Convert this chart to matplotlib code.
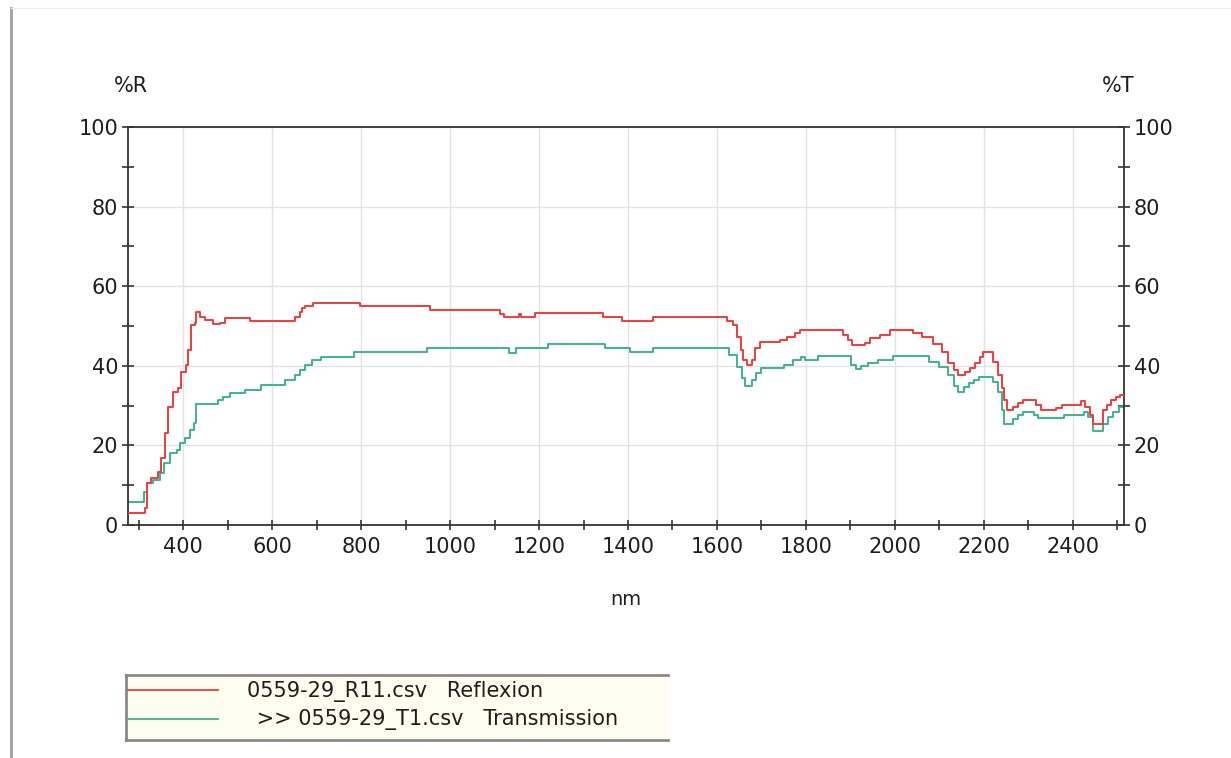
import matplotlib
matplotlib.use("Agg")
import matplotlib.pyplot as plt
from matplotlib.ticker import MultipleLocator
from matplotlib.lines import Line2D
from matplotlib.patches import Rectangle

plt.rcParams['font.family'] = ['DejaVu Sans']

# Reflection spectrum (wavelength in nm, %R), stepwise values
refl_nm = [276, 315, 318, 328, 344, 351, 360, 366, 377, 389, 396, 407, 411, 418,
           427, 429, 438, 449, 467, 483, 494, 550, 652, 662, 668, 674, 692, 798,
           955, 1112, 1122, 1154, 1160, 1190, 1343, 1386, 1456, 1622, 1636, 1645,
           1654, 1658, 1667, 1679, 1685, 1697, 1742, 1757, 1775, 1787, 1883, 1894,
           1903, 1933, 1944, 1966, 1989, 2040, 2060, 2085, 2105, 2120, 2132, 2142,
           2157, 2169, 2180, 2191, 2198, 2220, 2232, 2240, 2245, 2252, 2266, 2277,
           2288, 2318, 2328, 2362, 2375, 2418, 2428, 2438, 2446, 2468, 2476, 2486,
           2497, 2506, 2515]
refl_pct = [3.1, 4.3, 10.5, 11.8, 13.3, 16.8, 23.0, 29.6, 33.4, 34.4, 38.4, 40.2, 44.0, 50.3,
            50.8, 53.5, 52.3, 51.5, 50.5, 50.8, 52.0, 51.3, 52.3, 53.5, 54.5, 55.0, 55.8, 55.0,
            54.0, 53.0, 52.2, 53.0, 52.2, 53.2, 52.3, 51.3, 52.2, 51.3, 50.2, 47.3,
            44.0, 41.5, 40.2, 41.5, 44.4, 46.0, 46.5, 47.3, 48.2, 49.0, 47.7, 46.5,
            45.2, 45.7, 46.9, 47.7, 49.0, 48.2, 47.3, 45.6, 43.5, 40.6, 38.9, 37.7,
            38.5, 39.4, 40.6, 42.3, 43.5, 41.0, 37.7, 34.4, 31.4, 28.9, 29.7, 30.6,
            31.4, 30.2, 28.9, 29.5, 30.2, 31.2, 29.7, 27.6, 25.5, 28.9, 30.2, 31.4,
            32.2, 32.7, 32.7]

# Transmission spectrum (wavelength in nm, %T), stepwise values
trans_nm = [276, 312, 318, 333, 348, 358, 370, 386, 394, 405, 415, 424, 429, 479,
            490, 505, 540, 575, 629, 652, 662, 675, 690, 710, 784, 948, 1132, 1148,
            1220, 1348, 1404, 1456, 1628, 1645, 1656, 1664, 1678, 1688, 1700, 1750,
            1772, 1788, 1798, 1826, 1902, 1912, 1924, 1940, 1962, 1995, 2076, 2100,
            2120, 2132, 2142, 2155, 2166, 2177, 2188, 2220, 2232, 2240, 2245, 2265,
            2277, 2288, 2312, 2322, 2380, 2424, 2434, 2446, 2468, 2480, 2491, 2503,
            2515]
trans_pct = [5.9, 8.3, 10.5, 11.3, 13.0, 15.6, 18.1, 18.8, 20.6, 21.9, 23.9, 25.6, 30.4, 31.4,
             32.2, 33.1, 33.9, 35.2, 36.4, 37.7, 38.9, 40.2, 41.5, 42.3, 43.5, 44.4, 43.3, 44.4,
             45.4, 44.4, 43.4, 44.4, 42.7, 39.8, 36.9, 34.8, 36.4, 38.1, 39.4, 40.2,
             41.5, 42.3, 41.5, 42.5, 40.2, 39.1, 40.0, 40.6, 41.5, 42.5, 41.0, 39.8,
             37.7, 34.8, 33.5, 34.6, 35.6, 36.4, 37.3, 36.0, 33.5, 28.9, 25.5, 26.6,
             27.6, 28.5, 27.6, 26.8, 27.6, 28.5, 27.2, 23.6, 25.5, 27.2, 28.5, 29.7,
             29.7]

x_ticks = [400, 600, 800, 1000, 1200, 1400, 1600, 1800, 2000, 2200, 2400]
y_ticks = [0, 20, 40, 60, 80, 100]
legend_labels = ["0559-29_R11.csv   Reflexion", " >> 0559-29_T1.csv   Transmission"]

RED = '#f03c3c'
GREEN = '#3cb48c'
TXT = '#1e1e1e'

W, H = 1231, 758
fig = plt.figure(figsize=(W / 100, H / 100), dpi=100)
fig.patch.set_facecolor('white')

def px(x, y):
    return x / W, 1 - y / H

# page frame: left rule and top hairline
fig.add_artist(Line2D([11 / W, 11 / W], [0, 1 - 8 / H], color='#a0a0a0', lw=2.0,
                      transform=fig.transFigure))
fig.add_artist(Line2D([11 / W, 1], [1 - 8 / H, 1 - 8 / H], color='#ececec', lw=1.0,
                      transform=fig.transFigure))

l, b = px(128, 525)
r, t = px(1124, 127)
ax = fig.add_axes([l, b, r - l, t - b])

ax.step(refl_nm, refl_pct, where='post', color=RED, lw=1.4, zorder=3)
ax.step(trans_nm, trans_pct, where='post', color=GREEN, lw=1.4, zorder=2)

ax.set_xlim(276, 2515)
ax.set_ylim(0, 100)
ax.set_xticks(x_ticks)
ax.set_yticks(y_ticks)
ax.xaxis.set_minor_locator(MultipleLocator(100))
ax.yaxis.set_minor_locator(MultipleLocator(10))
ax.grid(True, which='major', color='#e2e2e2', lw=1.0)
ax.set_axisbelow(True)

for s in ax.spines.values():
    s.set_color('#333333')
    s.set_linewidth(1.3)

ax.tick_params(which='both', direction='inout', length=8, width=1.2, color='#333333',
               labelsize=15, labelcolor=TXT, right=True, labelright=True,
               top=False)
ax.tick_params(axis='x', which='both', length=7, pad=5)
ax.tick_params(axis='y', which='both', pad=3)

ax.set_xlabel('nm', fontsize=14, color=TXT, labelpad=24)
fig.text(*px(131, 86), '%R', fontsize=15, color=TXT, ha='center', va='center')
fig.text(*px(1118, 86), '%T', fontsize=15, color=TXT, ha='center', va='center')

# legend panel
lx0, ly0 = px(126, 740)
lx1, ly1 = px(668, 675)
fig.add_artist(Rectangle((lx0, ly0), lx1 - lx0, ly1 - ly0, transform=fig.transFigure,
                         facecolor='#fdfdf0', edgecolor='none'))
for xs, ys in (([lx0, lx1], [ly1, ly1]), ([lx0, lx1], [ly0, ly0]), ([lx0, lx0], [ly0, ly1])):
    fig.add_artist(Line2D(xs, ys, color='#8a8a8a', lw=2.0, transform=fig.transFigure))

for (yy, col, lab, tx) in ((691, RED, legend_labels[0], 247), (720, GREEN, legend_labels[1], 250)):
    fig.add_artist(Line2D([128 / W, 218 / W], [1 - (yy - 1) / H] * 2, color=col, lw=1.3,
                          transform=fig.transFigure))
    fig.text(tx / W, 1 - yy / H, lab, fontsize=15, color=TXT, ha='left', va='center')

fig.savefig('out.png', dpi=100, facecolor='white')
